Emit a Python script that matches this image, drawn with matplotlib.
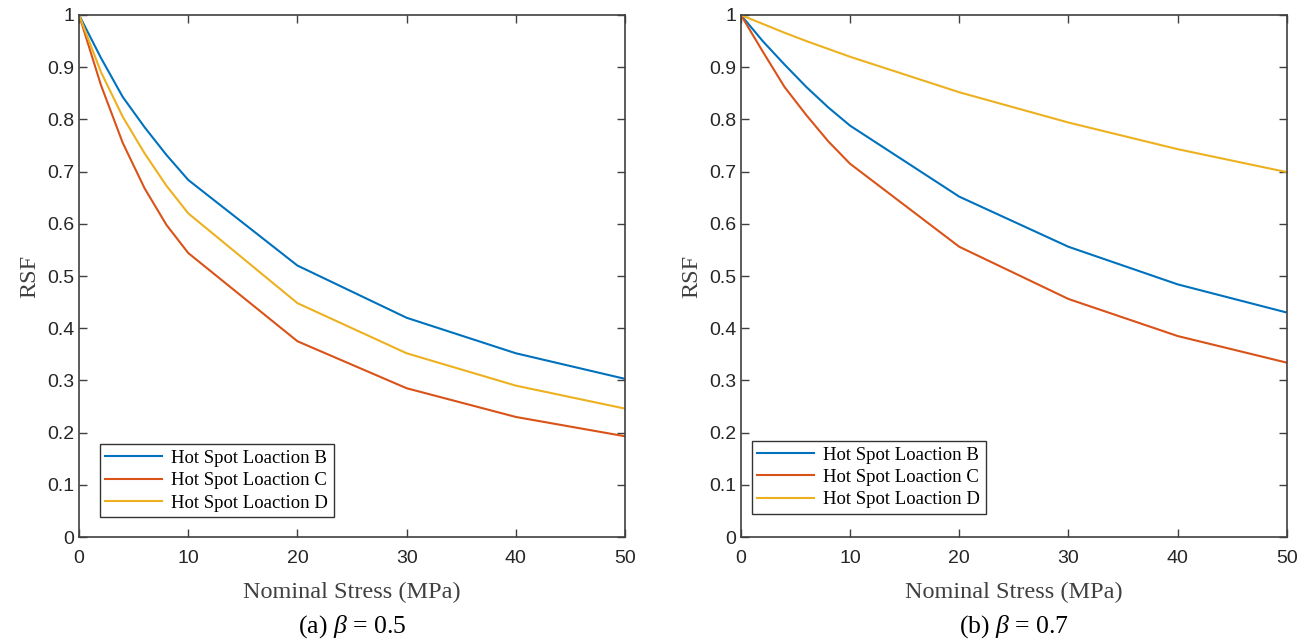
import matplotlib.pyplot as plt

# nominal stress samples (MPa)
stress = [0, 2, 4, 6, 8, 10, 20, 30, 40, 50]

# beta = 0.5
rsf_b_05 = [1.0, 0.918, 0.843, 0.785, 0.732, 0.684, 0.520, 0.420, 0.352, 0.303]
rsf_c_05 = [1.0, 0.866, 0.755, 0.668, 0.598, 0.544, 0.375, 0.285, 0.230, 0.193]
rsf_d_05 = [1.0, 0.891, 0.805, 0.735, 0.673, 0.620, 0.448, 0.352, 0.290, 0.246]

# beta = 0.7
rsf_b_07 = [1.0, 0.950, 0.905, 0.862, 0.823, 0.788, 0.652, 0.556, 0.484, 0.430]
rsf_c_07 = [1.0, 0.930, 0.862, 0.808, 0.758, 0.715, 0.556, 0.456, 0.385, 0.334]
rsf_d_07 = [1.0, 0.983, 0.966, 0.950, 0.935, 0.920, 0.852, 0.794, 0.743, 0.699]

labels = ['Hot Spot Loaction B', 'Hot Spot Loaction C', 'Hot Spot Loaction D']
captions = [r'(a) $\beta$ = 0.5', r'(b) $\beta$ = 0.7']
colors = ['#0072BD', '#D95319', '#EDB120']
yticks = [0, 0.1, 0.2, 0.3, 0.4, 0.5, 0.6, 0.7, 0.8, 0.9, 1]
yticklabels = ['0', '0.1', '0.2', '0.3', '0.4', '0.5', '0.6', '0.7', '0.8', '0.9', '1']

plt.rcParams['mathtext.fontset'] = 'custom'
plt.rcParams['mathtext.it'] = 'Liberation Serif:italic'
plt.rcParams['mathtext.rm'] = 'Liberation Serif'

axcol = '#404040'
fig = plt.figure(figsize=(13.09, 6.41), dpi=100)
lefts = [0.0604, 0.566]
legpos = [(0.038, 0.038), (0.02, 0.044)]
data = [[rsf_b_05, rsf_c_05, rsf_d_05], [rsf_b_07, rsf_c_07, rsf_d_07]]

for left, series, cap, lp in zip(lefts, data, captions, legpos):
    ax = fig.add_axes([left, 0.1622, 0.4171, 0.8144])
    for s, c, lab in zip(series, colors, labels):
        ax.plot(stress, s, color=c, lw=1.5, label=lab)
    ax.set_xlim(0, 50)
    ax.set_ylim(0, 1)
    ax.set_xticks([0, 10, 20, 30, 40, 50])
    ax.set_yticks(yticks)
    ax.set_yticklabels(yticklabels)
    ax.tick_params(direction='in', top=True, right=True, length=6, width=1,
                   color=axcol, labelcolor='#262626', labelsize=14)
    for lbl in ax.get_xticklabels() + ax.get_yticklabels():
        lbl.set_family('Liberation Sans')
    ax.tick_params(axis='x', pad=9)
    for sp in ax.spines.values():
        sp.set_color(axcol)
        sp.set_linewidth(1.2)
    ax.set_xlabel('Nominal Stress (MPa)', family='Liberation Serif', fontsize=17.5,
                  color='#404040', labelpad=11)
    ax.set_ylabel('RSF', family='Liberation Serif', fontsize=17.5, color='#404040',
                  labelpad=5)
    leg = ax.legend(loc='lower left', bbox_to_anchor=lp, borderaxespad=0,
                    prop={'family': 'Liberation Serif', 'size': 13.5},
                    fancybox=False, framealpha=1, edgecolor='#333333',
                    handlelength=3.0, borderpad=0.3, labelspacing=0.28,
                    handletextpad=0.5)
    leg.get_frame().set_linewidth(1.0)
    ax.text(0.5, -0.172, cap, transform=ax.transAxes, ha='center', va='center',
            family='Liberation Serif', fontsize=18.5)

fig.savefig('out.png', dpi=100)
